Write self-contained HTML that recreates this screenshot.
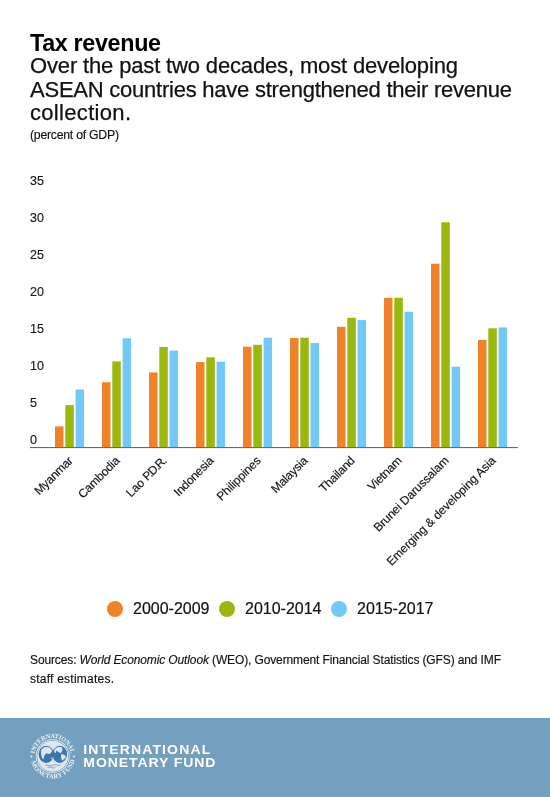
<!DOCTYPE html>
<html><head><meta charset="utf-8"><style>
html,body{margin:0;padding:0;background:#fff;}
svg{display:block;will-change:transform;font-family:"Liberation Sans",sans-serif;}
</style></head><body>
<svg width="550" height="797" viewBox="0 0 550 797">
<rect width="550" height="797" fill="#fff"/>
<text x="30" y="50.8" font-size="23.3" font-weight="bold" fill="#000" textLength="131" lengthAdjust="spacing">Tax revenue</text>
<g font-size="22" fill="#111" stroke="#111" stroke-width="0.25">
<text x="30" y="73.4" textLength="428" lengthAdjust="spacing">Over the past two decades, most developing</text>
<text x="30" y="96.9" textLength="482" lengthAdjust="spacing">ASEAN countries have strengthened their revenue</text>
<text x="30" y="119.6" textLength="101" lengthAdjust="spacing">collection.</text>
</g>
<text x="30" y="139.1" font-size="12.3" fill="#111" stroke="#111" stroke-width="0.15" textLength="89" lengthAdjust="spacing">(percent of GDP)</text>
<g font-size="12.5" fill="#1a1a1a" stroke="#1a1a1a" stroke-width="0.15">
<text x="30" y="443.8">0</text><text x="30" y="406.8">5</text><text x="30" y="369.8">10</text><text x="30" y="332.8">15</text><text x="30" y="295.8">20</text><text x="30" y="258.8">25</text><text x="30" y="221.8">30</text><text x="30" y="184.8">35</text>
</g>
<rect x="55.00" y="426.4" width="8.5" height="20.6" fill="#F0832A"/><rect x="65.30" y="405.1" width="8.5" height="41.9" fill="#9BB80F"/><rect x="75.60" y="389.5" width="8.5" height="57.5" fill="#72C8F9"/><rect x="102.00" y="382.2" width="8.5" height="64.8" fill="#F0832A"/><rect x="112.30" y="361.4" width="8.5" height="85.6" fill="#9BB80F"/><rect x="122.60" y="338.3" width="8.5" height="108.7" fill="#72C8F9"/><rect x="149.00" y="372.4" width="8.5" height="74.6" fill="#F0832A"/><rect x="159.30" y="347.0" width="8.5" height="100.0" fill="#9BB80F"/><rect x="169.60" y="350.6" width="8.5" height="96.4" fill="#72C8F9"/><rect x="196.00" y="362.1" width="8.5" height="84.9" fill="#F0832A"/><rect x="206.30" y="357.3" width="8.5" height="89.7" fill="#9BB80F"/><rect x="216.60" y="361.7" width="8.5" height="85.3" fill="#72C8F9"/><rect x="243.00" y="346.7" width="8.5" height="100.3" fill="#F0832A"/><rect x="253.30" y="344.8" width="8.5" height="102.2" fill="#9BB80F"/><rect x="263.60" y="337.7" width="8.5" height="109.3" fill="#72C8F9"/><rect x="290.00" y="338.0" width="8.5" height="109.0" fill="#F0832A"/><rect x="300.30" y="337.7" width="8.5" height="109.3" fill="#9BB80F"/><rect x="310.60" y="342.9" width="8.5" height="104.1" fill="#72C8F9"/><rect x="337.00" y="326.8" width="8.5" height="120.2" fill="#F0832A"/><rect x="347.30" y="317.8" width="8.5" height="129.2" fill="#9BB80F"/><rect x="357.60" y="320.1" width="8.5" height="126.9" fill="#72C8F9"/><rect x="384.00" y="297.8" width="8.5" height="149.2" fill="#F0832A"/><rect x="394.30" y="297.8" width="8.5" height="149.2" fill="#9BB80F"/><rect x="404.60" y="311.8" width="8.5" height="135.2" fill="#72C8F9"/><rect x="431.00" y="263.7" width="8.5" height="183.3" fill="#F0832A"/><rect x="441.30" y="222.2" width="8.5" height="224.8" fill="#9BB80F"/><rect x="451.60" y="366.7" width="8.5" height="80.3" fill="#72C8F9"/><rect x="478.00" y="340.0" width="8.5" height="107.0" fill="#F0832A"/><rect x="488.30" y="328.3" width="8.5" height="118.7" fill="#9BB80F"/><rect x="498.60" y="327.5" width="8.5" height="119.5" fill="#72C8F9"/>
<rect x="30" y="447" width="488" height="1.1" fill="#6a6a6a"/>
<g font-size="12" fill="#111" stroke="#111" stroke-width="0.15">
<text transform="translate(73.5,461.3) rotate(-45)" text-anchor="end" textLength="48.5" lengthAdjust="spacing">Myanmar</text><text transform="translate(120.5,461.3) rotate(-45)" text-anchor="end" textLength="53.2" lengthAdjust="spacing">Cambodia</text><text transform="translate(167.5,461.3) rotate(-45)" text-anchor="end">Lao <tspan letter-spacing="-1.1">P.D.R</tspan>.</text><text transform="translate(214.5,461.3) rotate(-45)" text-anchor="end" textLength="50.5" lengthAdjust="spacing">Indonesia</text><text transform="translate(261.5,461.3) rotate(-45)" text-anchor="end" textLength="56.5" lengthAdjust="spacing">Philippines</text><text transform="translate(308.5,461.3) rotate(-45)" text-anchor="end" textLength="45.8" lengthAdjust="spacing">Malaysia</text><text transform="translate(355.5,461.3) rotate(-45)" text-anchor="end" textLength="44.5" lengthAdjust="spacing">Thailand</text><text transform="translate(402.5,461.3) rotate(-45)" text-anchor="end" textLength="42.3" lengthAdjust="spacing">Vietnam</text><text transform="translate(449.5,461.3) rotate(-45)" text-anchor="end" textLength="100.5" lengthAdjust="spacing">Brunei Darussalam</text><text transform="translate(496.5,461.3) rotate(-45)" text-anchor="end" textLength="148.6" lengthAdjust="spacing">Emerging &amp; developing Asia</text>
</g>
<g font-size="16" fill="#111">
<circle cx="115" cy="609" r="8" fill="#F0832A"/>
<text x="133" y="614" stroke="#111" stroke-width="0.2">2000-2009</text>
<circle cx="227" cy="609" r="8" fill="#9BB80F"/>
<text x="245" y="614" stroke="#111" stroke-width="0.2">2010-2014</text>
<circle cx="339" cy="609" r="8" fill="#72C8F9"/>
<text x="357" y="614" stroke="#111" stroke-width="0.2">2015-2017</text>
</g>
<g font-size="12" fill="#111" stroke="#111" stroke-width="0.15">
<text x="30" y="664.2" textLength="471" lengthAdjust="spacing">Sources: <tspan font-style="italic">World Economic Outlook</tspan> (WEO), Government Financial Statistics (GFS) and IMF</text>
<text x="30" y="682.7" textLength="84" lengthAdjust="spacing">staff estimates.</text>
</g>
<rect x="0" y="718" width="550" height="79" fill="#74A0C0"/>
<g transform="translate(52.7 756.2)">
<defs>
<path id="arcT" d="M -18.12 -2.55 A 18.3 18.3 0 0 1 18.12 -2.55"/>
<path id="arcB" d="M -21.71 4.62 A 22.2 22.2 0 0 0 21.71 4.62"/>
</defs>
<g font-family="Liberation Serif" font-weight="bold" font-size="6.4" fill="#eef4f8">
<text><textPath href="#arcT" startOffset="0" textLength="52" lengthAdjust="spacing">INTERNATIONAL</textPath></text>
<text><textPath href="#arcB" startOffset="1" textLength="60" lengthAdjust="spacing">MONETARY FUND</textPath></text>
</g>
<circle cx="-21.3" cy="0.3" r="0.9" fill="#eef4f8"/>
<circle cx="21.3" cy="0.3" r="0.9" fill="#eef4f8"/>
<circle cx="0" cy="0" r="16.9" fill="#e9f0f5"/>
<circle cx="0" cy="0" r="15.9" fill="none" stroke="#6e9bc0" stroke-width="0.9"/>
<circle cx="0" cy="0" r="15.2" fill="#dde7ef"/>
</g>
<g transform="translate(38 744)">
<ellipse cx="8.3" cy="10.3" rx="7.5" ry="8.4" fill="#3a75ab"/>
<ellipse cx="21.7" cy="10.3" rx="7.2" ry="8.4" fill="#3a75ab"/>
<g fill="#dde7ef">
<path d="M3.5 4.9 L7.1 2.7 L12 2.5 L14.2 4.4 L13.9 7.6 L12.3 9.5 L10.4 10.1 L8.7 9.3 L7.1 10.4 L6 12.5 L5.5 15.3 L4.1 14.2 L3.3 10.9 L3 7.6Z"/>
<path d="M13.1 13.5 L15.8 13.1 L15.6 16.4 L13.6 16.2Z"/>
<path d="M16.4 3.3 L20.7 2.2 L24 3.3 L24.5 6.5 L22.9 9.3 L20.7 8.2 L18.5 6.5 L17.5 9.3 L16.4 8.2 L15.8 5.5Z"/>
<path d="M23.5 9.8 L28.4 12 L27.8 14.2 L24 16.4 L22.9 13.1Z"/>
</g>
<ellipse cx="8.3" cy="10.3" rx="7.1" ry="8.0" fill="none" stroke="#3a75ab" stroke-width="0.9"/>
<ellipse cx="21.7" cy="10.3" rx="6.8" ry="8.0" fill="none" stroke="#3a75ab" stroke-width="0.9"/>
<path d="M7 21.5 q2 -1 4 0 q2 1 4 -0.3 q2 -1 4 0 q2 1 3.5 -0.3 M9.5 23.5 q2 -1 4 0 q2 1 4 0" stroke="#5d8fbb" stroke-width="0.7" fill="none"/>
</g>
<g fill="#fff" font-weight="bold">
<text transform="translate(83.3 753.8) scale(1.17 1)" font-size="12" textLength="108.5" lengthAdjust="spacing">INTERNATIONAL</text>
<text transform="translate(83.3 767.4) scale(1.17 1)" font-size="12" textLength="113" lengthAdjust="spacing">MONETARY FUND</text>
</g>
</svg>
</body></html>
